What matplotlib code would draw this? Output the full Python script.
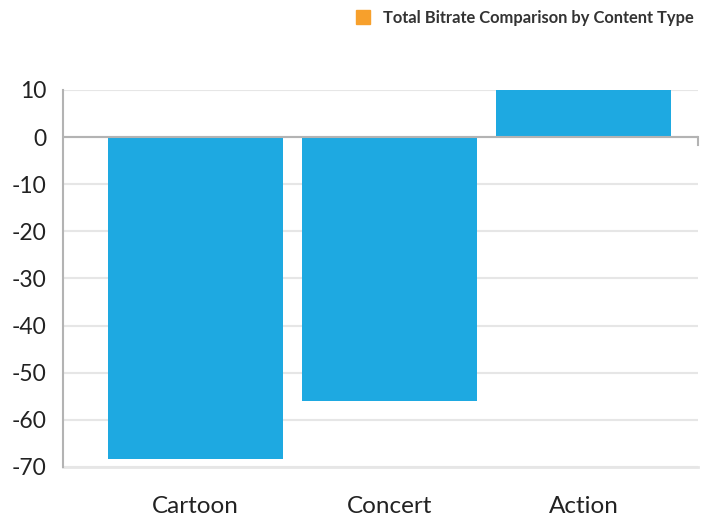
import matplotlib.pyplot as plt
from matplotlib.patches import Patch

plt.rcParams['font.family'] = ['Lato', 'DejaVu Sans']

# data
categories = ['Cartoon', 'Concert', 'Action']
bitrate = [-68.4, -56.0, 10.0]
yticks = [10, 0, -10, -20, -30, -40, -50, -60, -70]

bar_color = '#1ea9e1'
legend_color = '#f7a02c'
grid_color = '#e6e6e6'
axis_color = '#b3b3b3'

fig = plt.figure(figsize=(7.04, 5.19), dpi=100)
ax = fig.add_axes([0.0895, 0.1002, 0.902, 0.7264])

x = list(range(len(categories)))
ax.bar(x, bitrate, width=0.9, color=bar_color, zorder=2)

ax.set_xlim(-0.683, 2.59)
ax.set_ylim(-70, 10)
ax.set_yticks(yticks)
ax.set_yticklabels([str(v) for v in yticks])
ax.set_xticks(x)
ax.set_xticklabels(categories)

ax.yaxis.grid(True, color=grid_color, linewidth=1.5, zorder=0)
ax.set_axisbelow(True)
for s in ['top', 'right', 'bottom']:
    ax.spines[s].set_visible(False)
ax.spines['left'].set_color(axis_color)
ax.spines['left'].set_linewidth(1.5)

# zero baseline with small end tick
ax.axhline(0, color=axis_color, linewidth=1.5, zorder=3)
ax.plot([2.59, 2.59], [0, -1.6], color=axis_color, linewidth=1.5,
        clip_on=False, zorder=3)
# bottom gridline at -70
ax.axhline(-70, color=grid_color, linewidth=2, zorder=1, clip_on=False)

ax.tick_params(axis='both', length=0, colors='#222222')
ax.tick_params(axis='y', pad=12, labelsize=16.5)
ax.tick_params(axis='x', pad=21, labelsize=17.5)

fig.legend(handles=[Patch(color=legend_color)],
           labels=['Total Bitrate Comparison by Content Type'],
           loc='upper right', bbox_to_anchor=(1.006, 1.01), frameon=False,
           handlelength=0.85, handleheight=0.85, handletextpad=0.75,
           prop={'size': 11.9, 'weight': 'bold'}, labelcolor='#333333')

fig.savefig('out.png', dpi=100)
